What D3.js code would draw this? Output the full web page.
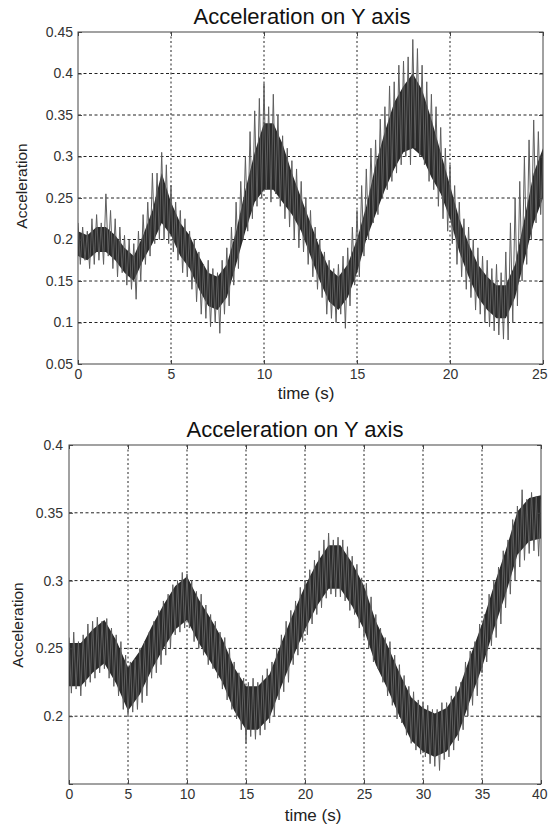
<!DOCTYPE html>
<html lang="en">
  <head>
    <meta charset="UTF-8" />
    <title>Acceleration on Y axis</title>

    <script src="https://d3js.org/d3.v7.min.js"></script>

    <style>
      body {
        margin: 0;
        background: #fff;
      }
      svg {
        display: block;
        font-family: "Liberation Sans", Arial, sans-serif;
      }
    </style>
  </head>

  <body>
    <svg width="548" height="825"></svg>

    <script>
      //Top panel (0 - 25 s)
      const topTitle = "Acceleration on Y axis";
      const topTicksX = [0, 5, 10, 15, 20, 25];
      const topTicksY = [0.05, 0.1, 0.15, 0.2, 0.25, 0.3, 0.35, 0.4, 0.45];
      const topTickLabelsY = ["0.05", "0.1", "0.15", "0.2", "0.25", "0.3", "0.35", "0.4", "0.45"];

      //spike extremes, one every 0.125 s (high, low, high, low ...)
      const topSpikeStep = 0.125;
      const topSpikes = [
        0.22, 0.17, 0.215, 0.175, 0.21, 0.165, 0.225, 0.17,
        0.23, 0.175, 0.22, 0.17, 0.255, 0.18, 0.235, 0.165,
        0.225, 0.155, 0.215, 0.16, 0.205, 0.145, 0.2, 0.14,
        0.195, 0.128, 0.21, 0.15, 0.23, 0.17, 0.245, 0.18,
        0.28, 0.195, 0.28, 0.2, 0.305, 0.2, 0.29, 0.195,
        0.265, 0.185, 0.245, 0.175, 0.235, 0.16, 0.225, 0.155,
        0.21, 0.14, 0.2, 0.125, 0.185, 0.11, 0.17, 0.105,
        0.175, 0.095, 0.165, 0.1, 0.16, 0.087, 0.175, 0.11,
        0.19, 0.12, 0.215, 0.145, 0.245, 0.165, 0.27, 0.2,
        0.3, 0.21, 0.33, 0.225, 0.355, 0.24, 0.37, 0.25,
        0.388, 0.26, 0.36, 0.245, 0.375, 0.255, 0.35, 0.24,
        0.325, 0.225, 0.31, 0.215, 0.295, 0.2, 0.285, 0.19,
        0.27, 0.185, 0.25, 0.17, 0.235, 0.155, 0.215, 0.14,
        0.2, 0.13, 0.185, 0.11, 0.175, 0.105, 0.165, 0.1,
        0.17, 0.11, 0.18, 0.093, 0.19, 0.12, 0.215, 0.145,
        0.235, 0.155, 0.265, 0.18, 0.285, 0.2, 0.31, 0.22,
        0.32, 0.23, 0.345, 0.25, 0.36, 0.26, 0.385, 0.27,
        0.39, 0.28, 0.41, 0.29, 0.415, 0.3, 0.42, 0.29,
        0.441, 0.31, 0.43, 0.3, 0.41, 0.29, 0.39, 0.27,
        0.375, 0.26, 0.36, 0.24, 0.335, 0.225, 0.31, 0.21,
        0.29, 0.195, 0.265, 0.17, 0.245, 0.155, 0.225, 0.14,
        0.215, 0.13, 0.2, 0.115, 0.19, 0.11, 0.18, 0.1,
        0.175, 0.095, 0.165, 0.09, 0.17, 0.085, 0.16, 0.08,
        0.185, 0.079, 0.22, 0.1, 0.25, 0.12, 0.27, 0.15,
        0.3, 0.17, 0.32, 0.2, 0.344, 0.22, 0.33, 0.23,
        0.3
      ];

      //dense dark band, one every 0.5 s
      const topCoreStep = 0.5;
      const topCoreLo = [
        0.18, 0.175, 0.185, 0.185, 0.175, 0.16, 0.15, 0.175, 0.195, 0.22,
        0.205, 0.18, 0.165, 0.14, 0.12, 0.115, 0.13, 0.17, 0.21, 0.245,
        0.26, 0.26, 0.245, 0.23, 0.21, 0.18, 0.15, 0.125, 0.115, 0.13,
        0.16, 0.2, 0.23, 0.26, 0.285, 0.305, 0.31, 0.3, 0.275, 0.255,
        0.225, 0.185, 0.155, 0.13, 0.115, 0.105, 0.105, 0.13, 0.175, 0.22,
        0.25
      ];
      const topCoreHi = [
        0.21, 0.205, 0.215, 0.215, 0.205, 0.19, 0.18, 0.205, 0.235, 0.28,
        0.245, 0.22, 0.205, 0.18, 0.16, 0.155, 0.17, 0.21, 0.26, 0.305,
        0.34, 0.34, 0.315, 0.28, 0.25, 0.22, 0.19, 0.165, 0.155, 0.17,
        0.2, 0.24, 0.29, 0.33, 0.365, 0.385, 0.4, 0.38, 0.345, 0.305,
        0.265, 0.225, 0.195, 0.17, 0.155, 0.145, 0.145, 0.17, 0.225, 0.28,
        0.31
      ];

      //Bottom panel (0 - 40 s)
      const botTitle = "Acceleration on Y axis";
      const botTicksX = [0, 5, 10, 15, 20, 25, 30, 35, 40];
      const botTicksY = [0.15, 0.2, 0.25, 0.3, 0.35, 0.4];
      const botTickLabelsY = ["", "0.2", "0.25", "0.3", "0.35", "0.4"];

      //spike extremes, one every 0.2 s (high, low, high, low ...)
      const botSpikeStep = 0.2;
      const botSpikes = [
        0.258, 0.217, 0.262, 0.22, 0.255, 0.215, 0.26, 0.222, 0.268, 0.225,
        0.27, 0.228, 0.273, 0.232, 0.27, 0.235, 0.272, 0.228, 0.265, 0.222,
        0.26, 0.215, 0.255, 0.205, 0.245, 0.201, 0.24, 0.203, 0.242, 0.205,
        0.25, 0.21, 0.255, 0.215, 0.262, 0.228, 0.27, 0.232, 0.278, 0.238,
        0.285, 0.245, 0.29, 0.25, 0.297, 0.26, 0.3, 0.262, 0.306, 0.265,
        0.305, 0.265, 0.3, 0.255, 0.292, 0.25, 0.29, 0.245, 0.282, 0.238,
        0.275, 0.235, 0.27, 0.228, 0.262, 0.22, 0.258, 0.212, 0.25, 0.205,
        0.24, 0.198, 0.232, 0.19, 0.228, 0.18, 0.225, 0.185, 0.228, 0.183,
        0.225, 0.186, 0.23, 0.19, 0.235, 0.195, 0.24, 0.2, 0.25, 0.212,
        0.26, 0.218, 0.27, 0.225, 0.278, 0.238, 0.285, 0.245, 0.295, 0.255,
        0.3, 0.26, 0.308, 0.268, 0.315, 0.275, 0.322, 0.28, 0.33, 0.287,
        0.335, 0.29, 0.33, 0.288, 0.332, 0.288, 0.33, 0.285, 0.325, 0.278,
        0.318, 0.275, 0.312, 0.265, 0.302, 0.258, 0.298, 0.25, 0.288, 0.24,
        0.275, 0.235, 0.265, 0.225, 0.258, 0.215, 0.255, 0.208, 0.245, 0.198,
        0.238, 0.195, 0.23, 0.186, 0.222, 0.18, 0.218, 0.175, 0.212, 0.172,
        0.21, 0.17, 0.208, 0.165, 0.205, 0.163, 0.205, 0.16, 0.21, 0.168,
        0.21, 0.17, 0.215, 0.175, 0.222, 0.182, 0.225, 0.19, 0.24, 0.2,
        0.248, 0.208, 0.255, 0.215, 0.268, 0.232, 0.275, 0.24, 0.29, 0.252,
        0.3, 0.258, 0.31, 0.268, 0.322, 0.28, 0.33, 0.29, 0.345, 0.3,
        0.355, 0.31, 0.367, 0.315, 0.36, 0.32, 0.365, 0.322, 0.362, 0.318,
        0.36
      ];

      //dense dark band, one every 1 s
      const botCoreStep = 1;
      const botCoreLo = [
        0.222, 0.222, 0.232, 0.239, 0.224, 0.204, 0.216, 0.234, 0.25, 0.264,
        0.271, 0.254, 0.24, 0.225, 0.204, 0.19, 0.19, 0.199, 0.222, 0.244,
        0.264, 0.281, 0.294, 0.294, 0.281, 0.264, 0.238, 0.22, 0.2, 0.182,
        0.174, 0.17, 0.174, 0.187, 0.212, 0.236, 0.264, 0.29, 0.319, 0.329,
        0.331
      ];
      const botCoreHi = [
        0.254, 0.254, 0.264, 0.271, 0.256, 0.236, 0.248, 0.266, 0.282, 0.296,
        0.303, 0.286, 0.272, 0.257, 0.236, 0.222, 0.222, 0.231, 0.254, 0.276,
        0.296, 0.313, 0.326, 0.326, 0.313, 0.296, 0.27, 0.252, 0.232, 0.214,
        0.206, 0.202, 0.206, 0.219, 0.244, 0.268, 0.296, 0.322, 0.351, 0.361,
        0.363
      ];

      const xLabel = "time (s)";
      const yLabel = "Acceleration";

      let svg = d3.select("svg");
      const pageWidth = +svg.attr("width");

      function drawPanel(p) {
        const x = d3.scaleLinear().domain([p.ticksX[0], p.ticksX[p.ticksX.length - 1]]).range([p.left, p.right]);
        const y = d3.scaleLinear().domain([p.ticksY[0], p.ticksY[p.ticksY.length - 1]]).range([p.bottom, p.top]);

        const g = svg.append("g");

        //clip data to the axes box
        g.append("clipPath")
          .attr("id", p.id)
          .append("rect")
          .attr("x", p.left)
          .attr("y", p.top)
          .attr("width", p.right - p.left)
          .attr("height", p.bottom - p.top);

        //dotted grid
        g.append("g")
          .selectAll("line")
          .data(p.ticksY.slice(1, -1))
          .join("line")
          .attr("x1", p.left)
          .attr("x2", p.right)
          .attr("y1", (d) => y(d))
          .attr("y2", (d) => y(d))
          .attr("stroke", "#222")
          .attr("stroke-width", 1)
          .attr("stroke-dasharray", "3,2.5");
        g.append("g")
          .selectAll("line")
          .data(p.ticksX.slice(1, -1))
          .join("line")
          .attr("x1", (d) => x(d))
          .attr("x2", (d) => x(d))
          .attr("y1", p.top)
          .attr("y2", p.bottom)
          .attr("stroke", "#222")
          .attr("stroke-width", 1)
          .attr("stroke-dasharray", "2,2.5");

        const data = g.append("g").attr("clip-path", `url(#${p.id})`);

        //dark band
        const core = p.coreLo.map((lo, i) => ({ t: i * p.coreStep, lo: lo, hi: p.coreHi[i] }));
        data
          .append("path")
          .datum(core)
          .attr("fill", "#2a2a2a")
          .attr(
            "d",
            d3
              .area()
              .x((d) => x(d.t))
              .y0((d) => y(d.lo))
              .y1((d) => y(d.hi))
          );

        //spikes
        const spikes = p.spikes.map((v, i) => ({ t: i * p.spikeStep, v: v }));
        data
          .append("path")
          .datum(spikes)
          .attr("fill", "none")
          .attr("stroke", "#5e5e5e")
          .attr("stroke-width", 1)
          .attr(
            "d",
            d3
              .line()
              .x((d) => x(d.t))
              .y((d) => y(d.v))
          );

        //axes with inward ticks
        const bottomAxis = g
          .append("g")
          .attr("transform", `translate(0,${p.bottom})`)
          .call(d3.axisBottom(x).tickValues(p.ticksX).tickSizeInner(-4).tickSizeOuter(0).tickPadding(5));
        const leftAxis = g
          .append("g")
          .attr("transform", `translate(${p.left},0)`)
          .call(
            d3
              .axisLeft(y)
              .tickValues(p.ticksY)
              .tickFormat((d, i) => p.labelsY[i])
              .tickSizeInner(-4)
              .tickSizeOuter(0)
              .tickPadding(p.padY)
          );
        g.append("g")
          .attr("transform", `translate(0,${p.top})`)
          .call(d3.axisTop(x).tickValues(p.ticksX).tickSizeInner(-4).tickSizeOuter(0).tickFormat(""));
        g.append("g")
          .attr("transform", `translate(${p.right},0)`)
          .call(d3.axisRight(y).tickValues(p.ticksY).tickSizeInner(-4).tickSizeOuter(0).tickFormat(""));

        g.selectAll(".domain").remove();
        g.selectAll(".tick line").attr("stroke", "#444");
        [bottomAxis, leftAxis].forEach((a) => {
          a.attr("font-family", null).attr("font-size", null);
          a.selectAll("text").attr("fill", "#333").style("font-size", "14px");
        });

        //keep the last x label inside the page
        bottomAxis.selectAll("text").each(function (d) {
          const half = this.getComputedTextLength() / 2;
          const over = x(d) + half - (pageWidth - 1);
          if (over > 0) d3.select(this).attr("dx", -over);
        });

        //box
        g.append("rect")
          .attr("x", p.left)
          .attr("y", p.top)
          .attr("width", p.right - p.left)
          .attr("height", p.bottom - p.top)
          .attr("fill", "none")
          .attr("stroke", "#444")
          .attr("stroke-width", 1);

        //title and labels
        g.append("text")
          .attr("x", p.titleX)
          .attr("y", p.titleY)
          .attr("text-anchor", "middle")
          .attr("fill", "#111")
          .style("font-size", "22px")
          .text(p.title);
        g.append("text")
          .attr("x", p.xLabelX)
          .attr("y", p.xLabelY)
          .attr("text-anchor", "middle")
          .attr("fill", "#222")
          .style("font-size", "17px")
          .text(xLabel);
        g.append("text")
          .attr("transform", `translate(${p.yLabelX},${p.yLabelY}) rotate(-90)`)
          .attr("text-anchor", "middle")
          .attr("fill", "#222")
          .style("font-size", "15.5px")
          .text(yLabel);
      }

      drawPanel({
        id: "clip-top",
        title: topTitle,
        ticksX: topTicksX,
        ticksY: topTicksY,
        labelsY: topTickLabelsY,
        spikes: topSpikes,
        spikeStep: topSpikeStep,
        coreLo: topCoreLo,
        coreHi: topCoreHi,
        coreStep: topCoreStep,
        left: 78,
        right: 543,
        top: 32,
        bottom: 364,
        padY: 5,
        titleX: 302,
        titleY: 24,
        xLabelX: 306,
        xLabelY: 399,
        yLabelX: 27,
        yLabelY: 186,
      });

      drawPanel({
        id: "clip-bot",
        title: botTitle,
        ticksX: botTicksX,
        ticksY: botTicksY,
        labelsY: botTickLabelsY,
        spikes: botSpikes,
        spikeStep: botSpikeStep,
        coreLo: botCoreLo,
        coreHi: botCoreHi,
        coreStep: botCoreStep,
        left: 69,
        right: 541,
        top: 445,
        bottom: 784,
        padY: 6,
        titleX: 295,
        titleY: 437,
        xLabelX: 313,
        xLabelY: 821,
        yLabelX: 23,
        yLabelY: 625,
      });
    </script>
  </body>
</html>
